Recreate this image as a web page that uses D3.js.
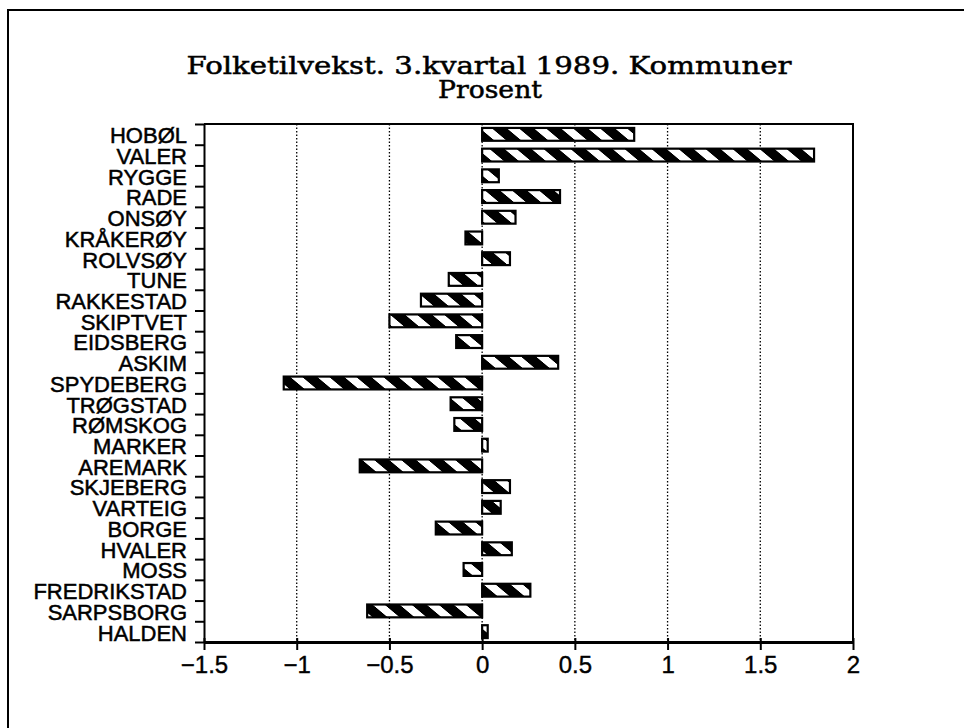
<!DOCTYPE html>
<html>
<head>
<meta charset="utf-8">
<script src="https://cdn.jsdelivr.net/npm/d3@7"></script>
<style>
  html, body { margin: 0; padding: 0; background: #fff; }
  svg { display: block; }
</style>
</head>
<body>
<svg id="chart" width="964" height="728"></svg>
<script>
// ---- data ----
const categories = ["HOBØL","VALER","RYGGE","RADE","ONSØY","KRÅKERØY","ROLVSØY","TUNE","RAKKESTAD","SKIPTVET","EIDSBERG","ASKIM","SPYDEBERG","TRØGSTAD","RØMSKOG","MARKER","AREMARK","SKJEBERG","VARTEIG","BORGE","HVALER","MOSS","FREDRIKSTAD","SARPSBORG","HALDEN"];
const values = [0.82, 1.79, 0.09, 0.42, 0.18, -0.09, 0.15, -0.18, -0.33, -0.50, -0.14, 0.41, -1.07, -0.17, -0.15, 0.03, -0.66, 0.15, 0.10, -0.25, 0.16, -0.10, 0.26, -0.62, 0.03];
const xTicks = [-1.5, -1, -0.5, 0, 0.5, 1, 1.5, 2];
const gridValues = [-1, -0.5, 0, 0.5, 1, 1.5];
const titleLines = ["Folketilvekst. 3.kvartal 1989. Kommuner", "Prosent"];

// ---- layout ----
const svg = d3.select("#chart");
const L = 204, R = 853, T = 124, B = 642;

svg.append("rect").attr("width", 964).attr("height", 728).attr("fill", "#fff");

// page frame (continues off the right and bottom edges)
svg.append("path")
  .attr("d", `M8,728 L8,10 L964,10`)
  .attr("fill", "none").attr("stroke", "#000").attr("stroke-width", 2);

const x = d3.scaleLinear().domain([-1.5, 2]).range([L, R]);
const yBand = d3.scaleBand().domain(categories).range([T, B]).padding(0);
const yBar = yBand.copy().paddingInner(0.38).paddingOuter(0.19);
const yIdx = d3.scaleLinear().domain([0, categories.length]).range([T, B]);

// pattern: black with white diagonal stripes
const defs = svg.append("defs");
const pat = defs.append("pattern")
  .attr("id", "hatch")
  .attr("patternUnits", "userSpaceOnUse")
  .attr("width", 27).attr("height", 27)
  .attr("patternTransform", "skewX(50)");
pat.append("rect").attr("width", 27).attr("height", 27).attr("fill", "#000");
pat.append("rect").attr("x", 3).attr("width", 12).attr("height", 27).attr("fill", "#fff");

// title
const title = svg.append("g").attr("font-family", "'DejaVu Serif', serif")
  .attr("fill", "#000").attr("stroke", "#000").attr("stroke-width", 0.5);
title.append("text").attr("x", 489).attr("y", 74).attr("text-anchor", "middle")
  .attr("font-size", 25).attr("textLength", 605).attr("lengthAdjust", "spacingAndGlyphs")
  .text(titleLines[0]);
title.append("text").attr("x", 490).attr("y", 98).attr("text-anchor", "middle")
  .attr("font-size", 25).attr("textLength", 104).attr("lengthAdjust", "spacingAndGlyphs")
  .text(titleLines[1]);

// gridlines
svg.append("g").selectAll("line").data(gridValues).join("line")
  .attr("x1", d => x(d)).attr("x2", d => x(d))
  .attr("y1", T).attr("y2", B)
  .attr("stroke", "#000").attr("stroke-width", 1.3)
  .attr("stroke-dasharray", "1.5,2");

// plot frame top and right
svg.append("path").attr("d", `M${L},${T} L${R},${T} L${R},${B}`)
  .attr("fill", "none").attr("stroke", "#000").attr("stroke-width", 2);

// bars
svg.append("g").selectAll("rect").data(categories).join("rect")
  .attr("x", (c, i) => x(Math.min(0, values[i])))
  .attr("width", (c, i) => Math.abs(x(values[i]) - x(0)))
  .attr("y", c => yBar(c))
  .attr("height", yBar.bandwidth())
  .attr("fill", "url(#hatch)")
  .attr("stroke", "#000").attr("stroke-width", 2.2);

// left axis: ticks at band boundaries
const yAxis = svg.append("g").attr("transform", `translate(${L},0)`)
  .call(d3.axisLeft(yIdx).tickValues(d3.range(categories.length + 1)).tickSize(9).tickSizeOuter(0).tickFormat(""));
yAxis.selectAll("path, line").attr("stroke", "#000").attr("stroke-width", 2);

// category labels
svg.append("g").selectAll("text").data(categories).join("text")
  .attr("x", 187)
  .attr("y", c => yBand(c) + yBand.bandwidth() - 1.5)
  .attr("text-anchor", "end")
  .attr("font-family", "'Liberation Sans', Arial, sans-serif")
  .attr("font-size", 22)
  .attr("fill", "#000")
  .attr("stroke", "#000").attr("stroke-width", 0.5)
  .text(c => c);

// bottom axis
const xAxis = svg.append("g").attr("transform", `translate(0,${B})`)
  .call(d3.axisBottom(x).tickValues(xTicks).tickSize(8).tickSizeOuter(0)
    .tickFormat(d => (d < 0 ? "\u2212" : "") + Math.abs(d)));
xAxis.select(".domain").attr("stroke", "#000").attr("stroke-width", 3);
xAxis.selectAll(".tick line").attr("stroke", "#000").attr("stroke-width", 2).attr("y1", -4);
xAxis.selectAll(".tick text")
  .attr("font-family", "'Liberation Sans', Arial, sans-serif")
  .attr("font-size", 24).attr("fill", "#000")
  .attr("stroke", "#000").attr("stroke-width", 0.4)
  .attr("y", 14);
</script>
</body>
</html>
